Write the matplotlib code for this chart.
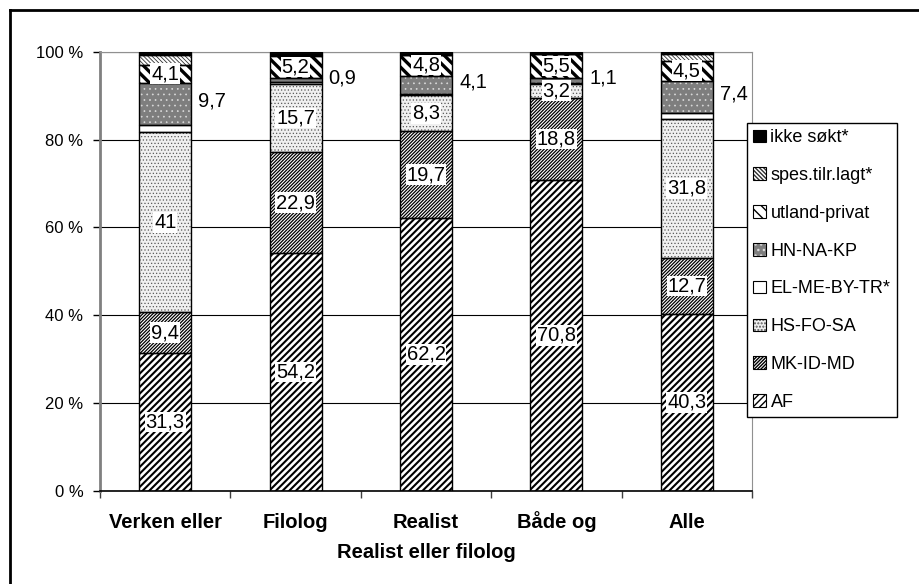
import numpy as np
import matplotlib
matplotlib.use("Agg")
import matplotlib.pyplot as plt
import matplotlib.transforms as mtransforms
from matplotlib.patches import Patch
from matplotlib.lines import Line2D
from matplotlib.legend_handler import HandlerTuple

plt.rcParams['font.family'] = ['Liberation Sans', 'DejaVu Sans']

# ---- data (percent of each group) ----
categories = ['Verken eller', 'Filolog', 'Realist', 'Både og', 'Alle']
series_names = ['AF', 'MK-ID-MD', 'HS-FO-SA', 'EL-ME-BY-TR*', 'HN-NA-KP',
                'utland-privat', 'spes.tilr.lagt*', 'ikke søkt*']
af = [31.3, 54.2, 62.2, 70.8, 40.3]
mk_id_md = [9.4, 22.9, 19.7, 18.8, 12.7]
hs_fo_sa = [41.0, 15.7, 8.3, 3.2, 31.8]
el_me_by_tr = [1.6, 0.3, 0.3, 0.2, 1.3]
hn_na_kp = [9.7, 0.9, 4.1, 1.1, 7.4]
utland_privat = [4.1, 5.2, 4.8, 5.5, 4.5]
spes_tilr_lagt = [2.3, 0.2, 0.0, 0.0, 1.6]
ikke_sokt = [0.6, 0.6, 0.6, 0.4, 0.4]
series = [af, mk_id_md, hs_fo_sa, el_me_by_tr, hn_na_kp,
          utland_privat, spes_tilr_lagt, ikke_sokt]

# fill style per series: face colour, hatch, hatch colour, hatch line width
styles = [
    ('white', '/////', 'black', 1.5),
    ('white', '//////////', 'black', 0.9),
    ('#f0f0f0', '.....', '#5a5a5a', 0.5),
    ('white', '', 'black', 0.5),
    ('#7e7e7e', '...', '#dadada', 0.5),
    ('white', '\\\\\\', 'black', 2.4),
    ('white', '\\\\\\\\\\\\\\\\', '#303030', 0.6),
    ('black', '', 'black', 0.5),
]
inside_labels = {0, 1, 2, 5}   # labels drawn inside the segment
outside_labels = {4}           # labels drawn to the right of the bar


def fmt(v):
    return f'{v:g}'.replace('.', ',')


W, H = 919, 584
ax_bottom_px, ax_top_px = 490.7, 52.0
fig = plt.figure(figsize=(W / 100, H / 100), dpi=100)
ax = fig.add_axes([100 / W, (H - ax_bottom_px) / H, 652 / W,
                   (ax_bottom_px - ax_top_px) / H])

x = np.arange(len(categories))
width = 0.4
bottom = np.zeros(len(categories))
handles = []
for i, (vals, (fc, hatch, hc, hlw)) in enumerate(zip(series, styles)):
    vals = np.asarray(vals, dtype=float)
    plt.rcParams['hatch.linewidth'] = hlw
    bars = ax.bar(x, vals, width, bottom=bottom, color=fc, edgecolor=hc,
                  hatch=hatch or None, linewidth=0, zorder=2)
    for b in bars:
        if hasattr(b, 'set_hatch_linewidth'):
            b.set_hatch_linewidth(hlw)
    ax.bar(x, vals, width, bottom=bottom, fill=False, edgecolor='black',
           linewidth=1.0, zorder=3)

    hp = Patch(facecolor=fc, edgecolor=hc, hatch=hatch or None, linewidth=0)
    if hasattr(hp, 'set_hatch_linewidth'):
        hp.set_hatch_linewidth(hlw)
    op = Patch(fill=False, edgecolor='black', linewidth=0.8)
    handles.append((hp, op))

    for xi, b0, v in zip(x, bottom, vals):
        if i in inside_labels:
            ax.text(xi, b0 + v / 2, fmt(v), ha='center', va='center',
                    fontsize=14.5, zorder=5,
                    bbox=dict(facecolor='white', edgecolor='none', pad=0.6))
        elif i in outside_labels:
            ax.annotate(fmt(v), (xi + width / 2, b0 + v / 2),
                        xytext=(5, 2), textcoords='offset points',
                        ha='left', va='center', fontsize=14.5, zorder=5)
    bottom += vals
plt.rcParams['hatch.linewidth'] = 1.0

# axes styling
ax.set_xlim(-0.5, len(categories) - 0.5)
ax.set_ylim(0, 100)
ax.set_yticks(np.arange(0, 101, 20))
ax.set_yticklabels([f'{t} %' for t in range(0, 101, 20)], fontsize=12)
ax.yaxis.grid(True, color='black', linewidth=0.8, zorder=0)
ax.set_axisbelow(True)
ax.tick_params(axis='y', length=5, width=1, pad=7, direction='out')

# category labels share one baseline
ax.set_xticks(x)
ax.set_xticklabels([''] * len(categories))
ax.tick_params(axis='x', which='major', length=0)
ax.set_xticks(np.arange(-0.5, len(categories), 1.0), minor=True)
ax.tick_params(axis='x', which='minor', length=5, width=1, direction='out',
               color='#404040')
ax_h_px = ax_bottom_px - ax_top_px
trans = mtransforms.blended_transform_factory(ax.transData, ax.transAxes)
for xi, name in zip(x, categories):
    ax.text(xi, -(527.5 - ax_bottom_px) / ax_h_px, name, transform=trans,
            ha='center', va='baseline', fontsize=14.5, fontweight='bold')

ax.spines['left'].set_color('#808080')
ax.spines['left'].set_linewidth(2)
ax.spines['top'].set_color('#909090')
ax.spines['right'].set_color('#909090')
ax.spines['bottom'].set_color('black')
ax.spines['bottom'].set_linewidth(1.2)

fig.text(426 / W, 1 - 558 / H, 'Realist eller filolog', ha='center',
         va='baseline', fontsize=14.5, fontweight='bold')

# legend, top entry first
leg = fig.legend(handles[::-1], series_names[::-1], loc='upper left',
                 bbox_to_anchor=(747 / W, 1 - 123 / H), frameon=True,
                 fancybox=False, edgecolor='black', framealpha=1,
                 fontsize=13, handlelength=0.7, handleheight=0.7,
                 handletextpad=0.25, labelspacing=1.15, borderpad=0.35,
                 borderaxespad=0,
                 handler_map={tuple: HandlerTuple(ndivide=1)})
leg.get_frame().set_linewidth(1.0)
leg.set_zorder(10)

# outer chart frame
fig.add_artist(Line2D([10 / W, 10 / W], [0, 1 - 10 / H], color='black',
                      linewidth=2, transform=fig.transFigure))
fig.add_artist(Line2D([10 / W, 1], [1 - 10 / H, 1 - 10 / H], color='black',
                      linewidth=2, transform=fig.transFigure))

fig.savefig('out.png', dpi=100, facecolor='white')
